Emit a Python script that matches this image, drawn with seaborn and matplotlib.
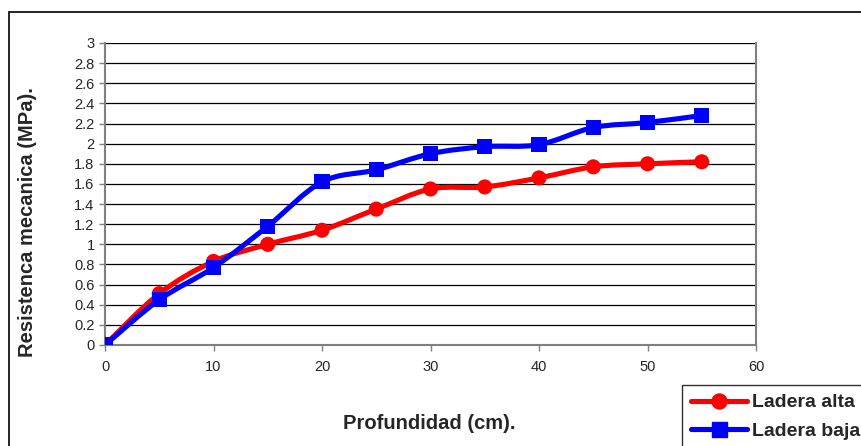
import matplotlib
matplotlib.use("Agg")
import matplotlib.pyplot as plt
from matplotlib.path import Path
from matplotlib.patches import PathPatch, Rectangle
from matplotlib.lines import Line2D
import seaborn as sns
import pandas as pd
import numpy as np

profundidad = [0, 5, 10, 15, 20, 25, 30, 35, 40, 45, 50, 55]
ladera_alta = [0.0, 0.51, 0.83, 1.00, 1.14, 1.35, 1.55, 1.57, 1.66, 1.77, 1.80, 1.82]
ladera_baja = [0.0, 0.45, 0.77, 1.18, 1.62, 1.74, 1.90, 1.97, 1.99, 2.16, 2.21, 2.28]
series_names = ["Ladera alta", "Ladera baja"]
colors = ["#FF0000", "#0000FF"]
markers = ["o", "s"]
yticks = [0, 0.2, 0.4, 0.6, 0.8, 1, 1.2, 1.4, 1.6, 1.8, 2, 2.2, 2.4, 2.6, 2.8, 3]
ytick_labels = ["0", "0.2", "0.4", "0.6", "0.8", "1", "1.2", "1.4", "1.6", "1.8", "2", "2.2", "2.4", "2.6", "2.8", "3"]
xticks = [0, 10, 20, 30, 40, 50, 60]

sns.set_style("white")
plt.rcParams["font.family"] = ["Liberation Sans", "DejaVu Sans"]

df = pd.DataFrame({
    "x": profundidad * 2,
    "y": ladera_alta + ladera_baja,
    "serie": [series_names[0]] * len(profundidad) + [series_names[1]] * len(profundidad),
})

W, H = 861, 446
fig = plt.figure(figsize=(W / 100, H / 100), dpi=100)
L, R, T, B = 105, 756, 43, 345
ax = fig.add_axes([L / W, 1 - B / H, (R - L) / W, (B - T) / H])

def smooth_path(xs, ys):
    pts = np.column_stack([xs, ys]).astype(float)
    n = len(pts)
    verts = [pts[0]]
    codes = [Path.MOVETO]
    for i in range(n - 1):
        p0 = pts[i - 1] if i > 0 else pts[i]
        p1 = pts[i]
        p2 = pts[i + 1]
        p3 = pts[i + 2] if i + 2 < n else pts[i + 1]
        c1 = p1 + (p2 - p0) / 6.0
        c2 = p2 - (p3 - p1) / 6.0
        verts += [c1, c2, p2]
        codes += [Path.CURVE4] * 3
    return Path(verts, codes)

for name, col, vals in zip(series_names, colors, [ladera_alta, ladera_baja]):
    patch = PathPatch(smooth_path(profundidad, vals), facecolor="none", edgecolor=col,
                      lw=3.7, zorder=3, capstyle="round", joinstyle="round")
    ax.add_patch(patch)

sns.scatterplot(data=df, x="x", y="y", hue="serie", style="serie",
                palette=dict(zip(series_names, colors)),
                markers=dict(zip(series_names, markers)),
                s=118, edgecolor="none", ax=ax, legend=False, zorder=4)

ax.set_xlim(0, 60)
ax.set_ylim(0, 3)
ax.set_yticks(yticks)
ax.set_yticklabels(ytick_labels)
ax.set_xticks(xticks)
ax.tick_params(axis="both", labelsize=10.5, length=4.5, width=1, color="#808080",
               direction="out", left=True, bottom=True)
ax.tick_params(axis="y", pad=3)
ax.tick_params(axis="x", pad=6)
ax.yaxis.grid(True, color="black", lw=0.9)
ax.set_axisbelow(True)
for s in ["left", "bottom", "right"]:
    ax.spines[s].set_visible(True)
    ax.spines[s].set_color("#808080")
    ax.spines[s].set_linewidth(1.5)
ax.spines["top"].set_visible(False)

ax.set_xlabel("Profundidad (cm).", fontsize=14.5, fontweight="bold", labelpad=0)
ax.set_ylabel("Resistenca mecanica (MPa).", fontsize=14.5, fontweight="bold", labelpad=0)
ax.xaxis.set_label_coords((429 - L) / (R - L), -(414 - B) / (B - T))
ax.yaxis.set_label_coords(-(L - 37) / (R - L), (B - 222) / (B - T))

handles = [Line2D([0], [0], color=c, lw=3.7, marker=m, markersize=10.8, markeredgecolor=c)
           for c, m in zip(colors, markers)]
leg = fig.legend(handles, series_names, loc="upper left",
                 bbox_to_anchor=(682 / W, 1 - 385 / H), frameon=True,
                 prop={"weight": "bold", "size": 14}, handlelength=2.9,
                 borderpad=0.45, labelspacing=0.55, handletextpad=0.25, borderaxespad=0)
leg.get_frame().set_edgecolor("black")
leg.get_frame().set_linewidth(1.0)
leg.get_frame().set_boxstyle("square", pad=0)

fig.patches.append(Rectangle((8.5 / W, -0.1), 1.2, 1.1 - 11.5 / H, transform=fig.transFigure,
                             fill=False, edgecolor="black", lw=1.2, zorder=0))

fig.savefig("out.png", dpi=100)
